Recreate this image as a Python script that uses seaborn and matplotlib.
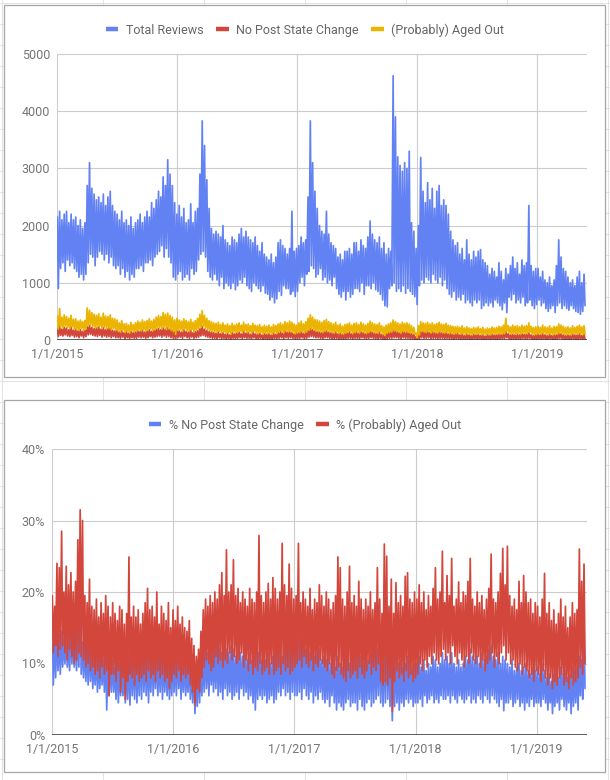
import numpy as np
import pandas as pd
import matplotlib
matplotlib.use("Agg")
import matplotlib.pyplot as plt
from matplotlib.patches import Rectangle
from matplotlib.lines import Line2D
import seaborn as sns

# ---------------- data (weekly high / low) ----------------
START = "2015-01-01"
XTICK_DATES = ["2015-01-01", "2016-01-01", "2017-01-01", "2018-01-01", "2019-01-01"]
XTICK_LABELS = ["1/1/2015", "1/1/2016", "1/1/2017", "1/1/2018", "1/1/2019"]
TOP_YTICKS = [0, 1000, 2000, 3000, 4000, 5000]
BOT_YTICKS = [0, 10, 20, 30, 40]
BOT_YLABELS = ["0%", "10%", "20%", "30%", "40%"]

TOP_SERIES = ["Total Reviews", "No Post State Change", "(Probably) Aged Out"]
BOT_SERIES = ["% No Post State Change", "% (Probably) Aged Out"]

TOTAL_HI = [
    2150, 2250, 2100, 2200, 2250, 2050, 2200, 2100, 2150, 2000, 2100, 1950, 2050,
    2700, 3100, 2650, 2550, 2450, 2500, 2400, 2550, 2350, 2500, 2600, 2350, 2250,
    2200, 2100, 2250, 2050, 2100, 2000, 2150, 1950, 2050, 2100, 2200, 2050, 2150,
    2250, 2150, 2400, 2300, 2450, 2600, 2500, 2850, 2700, 3150, 2900, 2700, 2400,
    2200, 2350, 2150, 2300, 2050, 2100, 2380, 2050, 2250, 2300, 2900, 3830, 3400,
    2800, 2300, 1950, 1850, 1900, 1850, 1800, 2000, 1750, 1700, 1650, 1800, 1750,
    1700, 1850, 1950, 1800, 1900, 1800, 1750, 1700, 1800, 1650, 1550, 1700, 1500,
    1450, 1400, 1500, 1350, 1450, 1700, 1750, 1650, 1600, 1500, 1600, 2250, 1550, 1600,
    1650, 1800, 1700, 1750, 2500, 3830, 3100, 2600, 2300, 2000, 1900, 1850,
    2250, 1850, 1700, 1650, 1600, 1450, 1500, 1400, 1550, 1550, 1600, 1500, 1700,
    1700, 1550, 1750, 1650, 1600, 1800, 2080, 1850, 1750, 1700, 1800, 1600, 1700,
    1500, 1600, 1550, 4620, 3900, 3200, 3050, 2950, 3100, 3000, 3300, 2050, 1900, 1600,
    2000, 3190, 2600, 2400, 2750, 2450, 2650, 2300, 2600, 2700, 2350, 2450,
    2350, 2200, 1900, 1750, 1650, 1700, 1500, 1600, 1400, 1750, 1500, 1400, 1550,
    1450, 1550, 1580, 1400, 1350, 1300, 1150, 1250, 1200, 1100, 1350, 1200, 1050, 1250,
    1150, 1300, 1450, 1250, 1350, 1150, 1400, 1300, 1350, 2350, 1300, 1200, 1250,
    1250, 1100, 1200, 1050, 1000, 1100, 950, 1050, 1300, 1750, 1450, 1250, 1200,
    1100, 1000, 1050, 950, 1100, 1200, 1000, 1150,
]
TOTAL_LO = [
    900, 1250, 1350, 1200, 1400, 1300, 1350, 1250, 1200, 1100, 1150, 1050, 1150,
    1350, 1500, 1450, 1300, 1450, 1550, 1500, 1400, 1500, 1350, 1450, 1300, 1250,
    1300, 1150, 1250, 1100, 1200, 1050, 1150, 1100, 1250, 1250, 1300, 1200, 1350,
    1350, 1400, 1300, 1450, 1500, 1550, 1650, 1450, 1600, 1450, 1350, 1100, 1050,
    1150, 1200, 1050, 1100, 1150, 1050, 1250, 1150, 1200, 1400, 1500, 1550, 1450,
    1200, 1100, 1050, 1150, 1050, 950, 1100, 900, 1000, 950, 900, 1000, 880,
    950, 1050, 1000, 1100, 950, 900, 850, 1000, 950, 900, 850, 950, 820,
    800, 700, 750, 650, 720, 850, 780, 950, 900, 900, 800, 850, 760, 850,
    1000, 1100, 950, 1150, 1200, 1300, 1250, 1100, 1150, 1250, 1050, 1100,
    1000, 1050, 950, 1100, 900, 800, 750, 850, 700, 850, 750, 800, 900,
    900, 850, 1000, 800, 950, 950, 900, 1000, 880, 850, 800, 700, 600,
    580, 900, 950, 1000, 850, 900, 850, 950, 820, 900, 850, 800, 760, 620,
    950, 1050, 1000, 1100, 1050, 1000, 1150, 1050, 1000, 1100, 950, 1050,
    900, 800, 750, 850, 700, 750, 700, 800, 650, 700, 650, 600, 700,
    650, 700, 550, 600, 650, 600, 650, 580, 700, 650, 600, 530, 650, 480,
    750, 700, 800, 650, 700, 650, 750, 600, 650, 700, 600, 550, 620,
    700, 600, 650, 550, 500, 550, 600, 480, 600, 650, 550, 600, 550,
    520, 600, 550, 500, 480, 450, 500, 600,
]
NOPSC_HI = [
    200, 260, 190, 220, 210, 180, 230, 170, 190, 160, 180, 150, 170,
    240, 250, 220, 200, 210, 230, 190, 220, 180, 200, 210, 170, 160,
    170, 140, 160, 130, 150, 120, 150, 130, 140, 160, 150, 170, 140,
    160, 180, 150, 170, 190, 200, 180, 210, 190, 220, 190, 170, 150,
    170, 160, 140, 180, 150, 140, 170, 130, 150, 160, 200, 240, 190,
    170, 150, 140, 130, 120, 140, 110, 130, 100, 120, 90, 130, 110,
    120, 140, 110, 150, 120, 130, 100, 140, 110, 100, 120, 90, 110,
    100, 110, 90, 120, 100, 130, 150, 120, 160, 140, 150, 130, 110, 120,
    130, 150, 120, 140, 170, 200, 180, 160, 150, 140, 130, 150,
    160, 140, 130, 120, 140, 110, 120, 100, 120, 130, 140, 110, 130,
    140, 120, 150, 130, 110, 130, 150, 140, 120, 120, 140, 100, 90,
    110, 130, 150, 180, 160, 140, 130, 150, 140, 150, 130, 110, 100, 60,
    100, 160, 150, 140, 150, 130, 150, 130, 120, 140, 130, 120,
    130, 110, 120, 100, 110, 120, 90, 110, 80, 100, 90, 80, 100,
    90, 100, 80, 90, 70, 90, 80, 100, 90, 90, 100, 100, 110, 150,
    110, 90, 100, 90, 100, 90, 110, 100, 100, 130, 90, 80, 90,
    100, 90, 110, 90, 80, 100, 80, 90, 90, 120, 110, 90, 80,
    90, 80, 100, 90, 90, 110, 80, 100,
]
NOPSC_LO = [
    60, 80, 70, 90, 70, 60, 80, 50, 60, 40, 70, 40, 60,
    90, 100, 80, 70, 60, 80, 50, 70, 50, 60, 40, 60, 40,
    40, 30, 50, 20, 40, 20, 40, 30, 30, 50, 40, 50, 30,
    40, 60, 40, 50, 60, 70, 50, 70, 50, 60, 40, 30, 20,
    40, 50, 30, 60, 40, 30, 50, 30, 40, 50, 70, 80, 60,
    50, 40, 30, 30, 20, 40, 20, 30, 10, 30, 10, 30, 20,
    30, 40, 20, 40, 30, 30, 20, 40, 20, 20, 30, 10, 20,
    10, 20, 10, 30, 20, 30, 40, 20, 40, 30, 40, 30, 20, 20,
    30, 40, 20, 30, 50, 60, 50, 40, 40, 30, 20, 40,
    40, 30, 20, 20, 30, 10, 20, 10, 20, 30, 30, 20, 30,
    30, 20, 40, 30, 20, 30, 40, 30, 20, 20, 30, 10, 10,
    20, 30, 30, 40, 40, 30, 20, 40, 30, 30, 20, 20, 10, 5,
    10, 40, 30, 30, 40, 20, 30, 30, 20, 30, 30, 20,
    30, 20, 20, 10, 20, 20, 10, 20, 10, 20, 10, 10, 20,
    10, 20, 10, 10, 10, 20, 10, 20, 10, 10, 20, 20, 20, 40,
    20, 10, 20, 10, 20, 10, 30, 20, 20, 30, 10, 10, 10,
    20, 10, 20, 10, 10, 20, 10, 10, 10, 30, 20, 10, 10,
    10, 10, 20, 10, 10, 20, 10, 10,
]
AGED_HI = [
    420, 550, 400, 440, 410, 380, 430, 360, 370, 330, 350, 320, 340,
    560, 520, 480, 450, 430, 460, 400, 470, 420, 410, 440, 380, 370,
    350, 300, 340, 280, 290, 260, 310, 270, 300, 330, 310, 350, 320,
    340, 370, 330, 360, 400, 430, 410, 480, 450, 470, 430, 400, 350,
    380, 350, 330, 370, 340, 320, 360, 310, 340, 380, 450, 515, 430,
    380, 340, 320, 300, 290, 310, 270, 300, 260, 280, 250, 290, 260,
    280, 300, 260, 310, 270, 280, 250, 290, 260, 250, 270, 230, 260,
    240, 260, 230, 270, 250, 280, 300, 270, 320, 300, 330, 310, 280, 260,
    300, 330, 280, 320, 380, 440, 400, 360, 350, 330, 310, 340,
    360, 320, 300, 280, 310, 260, 280, 240, 270, 280, 300, 260, 290,
    300, 270, 310, 280, 260, 290, 330, 300, 280, 270, 300, 250, 230,
    260, 280, 300, 350, 320, 300, 280, 310, 290, 300, 280, 250, 220, 120,
    250, 320, 300, 290, 310, 280, 300, 270, 290, 310, 280, 270,
    290, 260, 250, 240, 230, 240, 220, 250, 210, 230, 210, 200, 220,
    210, 230, 200, 220, 190, 210, 200, 230, 210, 220, 240, 230, 260, 380,
    250, 230, 260, 240, 250, 230, 260, 240, 250, 300, 240, 220, 230,
    240, 220, 260, 230, 220, 250, 210, 240, 230, 280, 260, 240, 220,
    230, 210, 250, 220, 240, 260, 230, 250,
]
AGED_LO = [
    190, 230, 210, 240, 220, 200, 230, 190, 180, 170, 200, 160, 190,
    240, 260, 230, 220, 210, 240, 200, 220, 190, 210, 180, 200, 170,
    160, 140, 170, 130, 150, 120, 160, 140, 150, 170, 160, 180, 150,
    170, 190, 160, 180, 200, 210, 190, 220, 180, 200, 170, 150, 100,
    170, 180, 150, 190, 160, 150, 180, 140, 170, 190, 220, 240, 200,
    180, 160, 150, 140, 130, 150, 120, 140, 110, 130, 100, 140, 120,
    130, 150, 120, 160, 130, 140, 110, 150, 120, 110, 130, 100, 120,
    110, 120, 100, 130, 110, 130, 150, 120, 160, 140, 150, 130, 110, 120,
    130, 150, 120, 140, 170, 190, 180, 160, 150, 140, 130, 150,
    160, 140, 130, 120, 140, 110, 130, 100, 120, 130, 140, 110, 130,
    140, 120, 150, 130, 110, 130, 150, 140, 120, 120, 140, 100, 80,
    120, 130, 140, 160, 150, 140, 120, 150, 130, 140, 120, 110, 100, 40,
    90, 150, 140, 130, 150, 120, 140, 130, 120, 140, 130, 120,
    130, 110, 120, 100, 110, 120, 100, 110, 90, 110, 100, 90, 110,
    100, 110, 90, 100, 90, 100, 90, 110, 100, 100, 110, 100, 110, 150,
    120, 100, 110, 100, 110, 100, 120, 110, 110, 130, 100, 90, 100,
    110, 100, 120, 100, 90, 110, 90, 100, 100, 120, 110, 100, 90,
    100, 90, 110, 100, 100, 110, 90, 100,
]
PCT_NOPSC_HI = [
    15.5, 14.5, 16.0, 14.0, 14.5, 13.5, 14.0, 13.0, 14.5, 13.5, 14.0, 15.0, 18.5,
    13.0, 12.5, 12.0, 13.0, 11.5, 11.0, 11.5, 10.5, 11.0, 10.5, 11.5, 10.5, 11.0,
    10.5, 9.5, 11.0, 10.0, 10.5, 9.5, 10.0, 11.0, 12.0, 11.0, 12.5, 11.5, 12.0,
    13.0, 11.5, 12.0, 11.0, 12.5, 11.5, 12.0, 11.0, 12.0, 11.5, 10.5, 11.0, 10.5,
    11.5, 10.5, 12.0, 10.0, 11.0, 10.5, 9.5, 11.0, 9.5, 9.0, 8.5, 10.0, 10.5,
    11.0, 12.0, 11.5, 12.5, 11.0, 12.5, 13.0, 12.0, 11.5, 13.0, 12.0, 11.5, 12.5,
    12.0, 11.0, 12.5, 11.5, 11.0, 12.0, 10.5, 11.5, 10.5, 11.0, 12.0, 11.5, 10.5,
    11.0, 10.5, 11.5, 10.0, 11.0, 12.0, 11.5, 12.5, 11.0, 12.0, 13.0, 12.5, 14.0, 13.5,
    13.5, 14.0, 12.5, 13.0, 12.0, 12.5, 11.5, 12.0, 11.0, 11.5, 12.0, 10.5,
    11.0, 10.5, 11.5, 10.0, 10.5, 9.5, 11.0, 10.0, 9.5, 10.5, 11.0, 10.0, 10.5,
    11.5, 10.5, 12.0, 11.0, 10.0, 11.0, 10.5, 11.5, 12.5, 13.0, 12.0, 13.0, 12.0,
    13.0, 14.7, 12.0, 10.5, 11.0, 11.5, 10.0, 10.5, 9.5, 10.0, 11.0, 10.5, 9.5, 10.0,
    10.0, 11.0, 9.5, 10.5, 9.0, 10.0, 9.5, 11.0, 10.5, 9.5, 10.0, 11.5,
    10.5, 11.0, 10.0, 11.5, 10.0, 9.5, 10.5, 9.5, 10.0, 11.0, 10.5, 12.0, 11.0,
    10.5, 11.0, 10.0, 11.5, 10.5, 11.0, 12.0, 12.5, 11.0, 10.5, 11.5, 10.0, 11.0, 10.5,
    10.0, 9.5, 10.5, 9.0, 9.5, 10.0, 9.0, 9.5, 10.0, 9.0, 8.5, 9.5, 9.0,
    9.5, 8.5, 10.0, 9.0, 8.0, 8.5, 7.5, 8.5, 9.0, 8.0, 9.5, 8.5, 9.0,
    8.0, 8.5, 9.5, 9.0, 9.5, 11.0, 10.5, 15.5,
]
PCT_NOPSC_LO = [
    7.0, 8.0, 9.0, 8.5, 9.5, 10.0, 9.5, 9.0, 10.0, 9.5, 9.0, 9.5, 8.5,
    8.0, 7.5, 7.0, 7.5, 6.5, 7.0, 6.0, 6.5, 7.0, 6.0, 3.5, 5.5, 6.0,
    6.0, 5.0, 4.5, 5.5, 5.5, 4.5, 5.0, 4.2, 5.5, 5.0, 4.5, 5.5, 5.0,
    6.0, 5.5, 4.5, 6.0, 5.5, 6.5, 5.5, 6.0, 5.0, 6.0, 5.5, 5.0, 5.5,
    6.0, 5.5, 6.5, 5.0, 6.0, 5.5, 6.0, 5.0, 4.5, 3.0, 4.0, 4.5, 5.5,
    6.0, 6.5, 5.5, 7.0, 6.0, 6.5, 5.5, 6.0, 5.0, 6.5, 5.5, 6.0, 5.0,
    5.5, 6.0, 5.0, 6.5, 5.5, 6.0, 5.0, 5.5, 4.5, 3.5, 5.0, 5.5, 5.0,
    5.5, 4.5, 5.0, 5.5, 4.5, 5.0, 6.0, 5.5, 6.5, 5.5, 6.0, 5.0, 6.0, 5.5,
    5.5, 6.0, 5.0, 6.5, 5.5, 5.0, 6.0, 4.5, 5.5, 5.0, 6.0, 5.0,
    4.5, 5.0, 4.0, 5.5, 4.5, 3.5, 4.5, 4.0, 3.5, 4.5, 5.0, 4.0, 4.5,
    4.5, 3.5, 5.0, 4.0, 3.5, 4.5, 5.0, 4.0, 4.5, 5.0, 5.5, 4.5, 4.0,
    4.5, 5.0, 4.0, 2.0, 4.0, 4.5, 3.5, 4.5, 4.0, 5.0, 4.5, 5.0, 4.0, 4.5,
    4.5, 5.0, 4.0, 5.5, 4.5, 5.0, 5.5, 4.5, 5.0, 4.5, 5.5, 5.0,
    5.0, 5.5, 4.5, 5.5, 5.0, 4.5, 5.5, 5.0, 4.5, 5.0, 5.5, 4.5, 5.0,
    4.5, 5.5, 5.0, 4.5, 5.5, 5.0, 4.5, 5.5, 5.0, 4.5, 4.0, 5.0, 3.4, 4.5,
    4.5, 5.0, 4.0, 4.5, 5.0, 4.0, 4.5, 3.5, 4.5, 4.0, 5.0, 4.0, 4.5,
    4.5, 4.0, 5.0, 4.5, 3.5, 4.5, 3.0, 4.0, 4.5, 3.5, 5.0, 4.0, 3.5,
    4.5, 3.0, 4.0, 4.5, 3.5, 5.5, 5.0, 6.5,
]
PCT_AGED_HI = [
    19.5, 18.0, 24.0, 23.4, 28.5, 20.0, 23.6, 21.0, 22.7, 20.0, 21.5, 27.3, 31.5,
    30.0, 19.5, 18.5, 21.8, 18.0, 17.5, 19.0, 16.5, 18.5, 17.0, 19.5, 18.0, 16.5,
    18.5, 17.0, 16.0, 18.0, 17.5, 15.5, 17.0, 24.9, 16.5, 18.0, 16.5, 17.5, 15.5,
    17.0, 18.5, 20.5, 17.5, 18.0, 16.5, 20.0, 15.5, 18.0, 17.0, 16.0, 18.5, 15.0,
    17.5, 16.0, 18.0, 15.5, 16.5, 15.0, 14.5, 16.0, 13.5, 12.5, 11.0, 12.0, 14.5,
    17.5, 19.0, 18.0, 19.5, 18.5, 20.0, 19.0, 21.0, 22.7, 19.5, 25.9, 20.0, 21.0,
    24.5, 19.5, 20.5, 18.5, 20.0, 19.0, 18.0, 20.5, 19.0, 18.5, 20.0, 27.9, 19.5,
    18.5, 20.0, 21.2, 19.0, 22.0, 20.5, 19.0, 20.0, 26.8, 21.0, 19.5, 23.9, 20.5, 19.0,
    19.5, 26.8, 18.5, 20.0, 19.0, 18.0, 20.5, 17.5, 19.0, 18.5, 21.0, 19.5,
    18.0, 20.0, 19.0, 17.5, 18.5, 19.5, 24.9, 23.4, 19.0, 18.0, 20.0, 23.6, 18.5,
    19.5, 18.0, 21.5, 19.0, 17.5, 19.0, 18.0, 20.0, 17.5, 18.5, 23.4, 19.0, 17.0,
    26.7, 25.0, 18.0, 21.8, 17.0, 21.3, 18.5, 19.5, 18.0, 22.2, 22.7, 19.0, 18.5, 20.0,
    19.0, 21.0, 18.5, 20.0, 17.5, 19.5, 18.0, 20.5, 23.4, 19.0, 20.0, 25.7,
    18.5, 22.3, 19.5, 24.7, 18.0, 19.0, 21.4, 18.5, 20.0, 19.5, 21.5, 24.7, 19.0,
    18.0, 20.0, 18.5, 19.5, 17.5, 19.0, 20.5, 25.3, 19.0, 18.5, 20.0, 22.6, 26.1, 21.0,
    26.4, 19.5, 18.0, 19.0, 17.5, 21.5, 18.5, 22.3, 20.0, 18.5, 19.0, 17.0, 18.5,
    18.0, 16.5, 19.0, 22.6, 17.0, 18.5, 16.0, 17.5, 15.5, 17.0, 19.0, 16.5, 18.0,
    15.0, 16.5, 18.5, 17.0, 17.5, 26.0, 21.5, 23.9,
]
PCT_AGED_LO = [
    11.5, 12.5, 11.0, 12.0, 12.5, 11.5, 10.5, 12.0, 11.0, 10.0, 10.5, 11.5, 11.0,
    10.5, 9.5, 10.0, 9.0, 9.5, 8.5, 9.0, 8.0, 9.5, 8.5, 9.0, 5.5, 8.5,
    8.5, 7.5, 9.0, 6.0, 8.0, 5.0, 7.5, 8.5, 8.0, 7.0, 8.5, 7.5, 8.0,
    8.5, 7.5, 9.0, 8.0, 8.5, 7.5, 9.0, 8.0, 8.5, 7.5, 8.0, 6.5, 7.5,
    8.5, 8.0, 9.0, 7.5, 8.5, 8.0, 8.5, 7.0, 6.0, 4.2, 6.5, 6.0, 8.0,
    9.5, 10.5, 10.0, 9.0, 9.5, 11.0, 10.0, 10.5, 9.5, 10.5, 10.0, 11.5, 10.5,
    11.0, 10.0, 10.5, 11.5, 9.5, 10.5, 9.0, 10.0, 8.5, 9.5, 9.0, 10.0, 8.5,
    9.0, 9.5, 8.5, 10.0, 8.5, 9.0, 9.5, 8.5, 10.0, 9.0, 9.5, 8.5, 9.0, 9.5,
    10.0, 10.5, 9.5, 11.0, 10.0, 9.5, 10.5, 9.0, 10.0, 9.5, 10.5, 10.0,
    9.5, 9.0, 10.0, 8.5, 8.0, 9.0, 9.5, 8.5, 8.0, 7.5, 9.0, 8.0, 8.5,
    9.0, 8.0, 9.5, 8.5, 8.0, 9.0, 10.0, 8.5, 9.5, 9.0, 10.0, 7.5, 7.0,
    7.5, 7.0, 8.0, 3.3, 7.5, 9.0, 8.0, 8.5, 7.5, 9.0, 8.0, 8.5, 7.5, 8.0,
    8.5, 10.0, 9.0, 10.5, 9.5, 11.0, 10.0, 11.5, 10.5, 10.0, 11.0, 12.0,
    10.5, 11.5, 10.0, 12.5, 11.0, 10.0, 11.5, 10.5, 9.5, 11.0, 10.0, 11.5, 10.5,
    10.0, 11.0, 9.5, 10.5, 9.0, 10.0, 10.5, 11.5, 9.5, 11.0, 10.0, 11.5, 12.5, 10.5,
    11.5, 10.0, 10.5, 9.5, 9.0, 10.0, 8.5, 9.5, 9.0, 8.0, 8.5, 7.5, 9.0,
    8.5, 7.5, 9.0, 8.0, 7.0, 8.0, 6.5, 7.5, 7.0, 8.0, 8.5, 7.0, 7.5,
    6.5, 8.0, 7.0, 7.5, 8.0, 9.5, 8.5, 10.0,
]

# ---------------- styling ----------------
BLUE = "#6282f3"
RED = "#d2463c"
YELLOW = "#ebb400"
GRID = "#cccccc"
TXT = "#757575"
LW = 1.25

W, H = 610, 780


def weekly_frame(pairs, names):
    rows = []
    for (hi, lo), name in zip(pairs, names):
        n = min(len(hi), len(lo))
        weeks = pd.date_range(START, periods=n, freq="7D")
        for i in range(n):
            rows.append((weeks[i] + pd.Timedelta(days=1), hi[i], name, 2 * i))
            rows.append((weeks[i] + pd.Timedelta(days=4), lo[i], name, 2 * i + 1))
    df = pd.DataFrame(rows, columns=["date", "value", "series", "order"])
    return df.sort_values(["series", "order"])


top_df = weekly_frame([(TOTAL_HI, TOTAL_LO), (NOPSC_HI, NOPSC_LO), (AGED_HI, AGED_LO)], TOP_SERIES)
bot_df = weekly_frame([(PCT_NOPSC_HI, PCT_NOPSC_LO), (PCT_AGED_HI, PCT_AGED_LO)], BOT_SERIES)

sns.set_theme(style="white")
plt.rcParams["font.family"] = ["Roboto", "DejaVu Sans"]

fig = plt.figure(figsize=(W / 100, H / 100), dpi=100)
fig.patch.set_facecolor("white")


def fx(x):
    return x / W


def fy(y):
    return 1 - y / H


# spreadsheet cell grid behind the charts
for x in [2, 103, 204, 305, 406, 507, 608]:
    fig.add_artist(Line2D([fx(x)] * 2, [0, 1], color="#e3e3e3", lw=0.75, zorder=0.1))
for y in range(3, 780, 21):
    fig.add_artist(Line2D([0, 1], [fy(y)] * 2, color="#e3e3e3", lw=0.75, zorder=0.1))

# chart boxes
for (x0, y0, x1, y1) in [(4, 5, 605, 377), (4, 400, 605, 772)]:
    fig.add_artist(Rectangle((fx(x0), fy(y1)), fx(x1) - fx(x0), fy(y0) - fy(y1),
                             facecolor="white", edgecolor="#a6a6a6", lw=0.9, zorder=0.5))

ax1 = fig.add_axes([fx(57), fy(340), fx(587) - fx(57), fy(54) - fy(340)])
ax2 = fig.add_axes([fx(52), fy(735), fx(587) - fx(52), fy(449) - fy(735)])

sns.lineplot(data=top_df, x="date", y="value", hue="series", hue_order=TOP_SERIES,
             palette=[BLUE, RED, YELLOW], estimator=None, errorbar=None, sort=False,
             linewidth=LW, legend=False, ax=ax1)
sns.lineplot(data=bot_df, x="date", y="value", hue="series", hue_order=BOT_SERIES,
             palette=[BLUE, RED], estimator=None, errorbar=None, sort=False,
             linewidth=LW, legend=False, ax=ax2)

xt = [pd.Timestamp(d) for d in XTICK_DATES]
for ax, yt, yl, ymax in [(ax1, TOP_YTICKS, [str(v) for v in TOP_YTICKS], 5000),
                         (ax2, BOT_YTICKS, BOT_YLABELS, 40)]:
    ax.set_zorder(1)
    ax.patch.set_alpha(0)
    ax.set_xlim(pd.Timestamp("2015-01-01"), pd.Timestamp("2019-06-02"))
    ax.set_ylim(0, ymax)
    ax.set_yticks(yt)
    ax.set_yticklabels(yl)
    ax.set_xticks(xt)
    ax.set_xticklabels(XTICK_LABELS)
    ax.set_xlabel("")
    ax.set_ylabel("")
    ax.grid(True, color=GRID, lw=0.8)
    ax.set_axisbelow(True)
    for s in ax.spines.values():
        s.set_visible(False)
    ax.axhline(0, color="#333333", lw=1.1, zorder=5)
    ax.tick_params(axis="both", length=0, labelsize=9, labelcolor=TXT)
    ax.tick_params(axis="y", pad=5)
    ax.tick_params(axis="x", pad=5.5)


def legend(names, colors, y):
    handles = [Line2D([], [], color=c, lw=3.2, solid_capstyle="butt") for c in colors]
    fig.legend(handles, names, loc="center", bbox_to_anchor=(fx(305), fy(y)), ncol=len(names),
               frameon=False, fontsize=9, handlelength=1.0, handletextpad=0.6,
               columnspacing=1.0, labelcolor="#666666")


legend(TOP_SERIES, [BLUE, RED, YELLOW], 30)
legend(BOT_SERIES, [BLUE, RED], 425)

fig.savefig("out.png", dpi=100, facecolor="white")
